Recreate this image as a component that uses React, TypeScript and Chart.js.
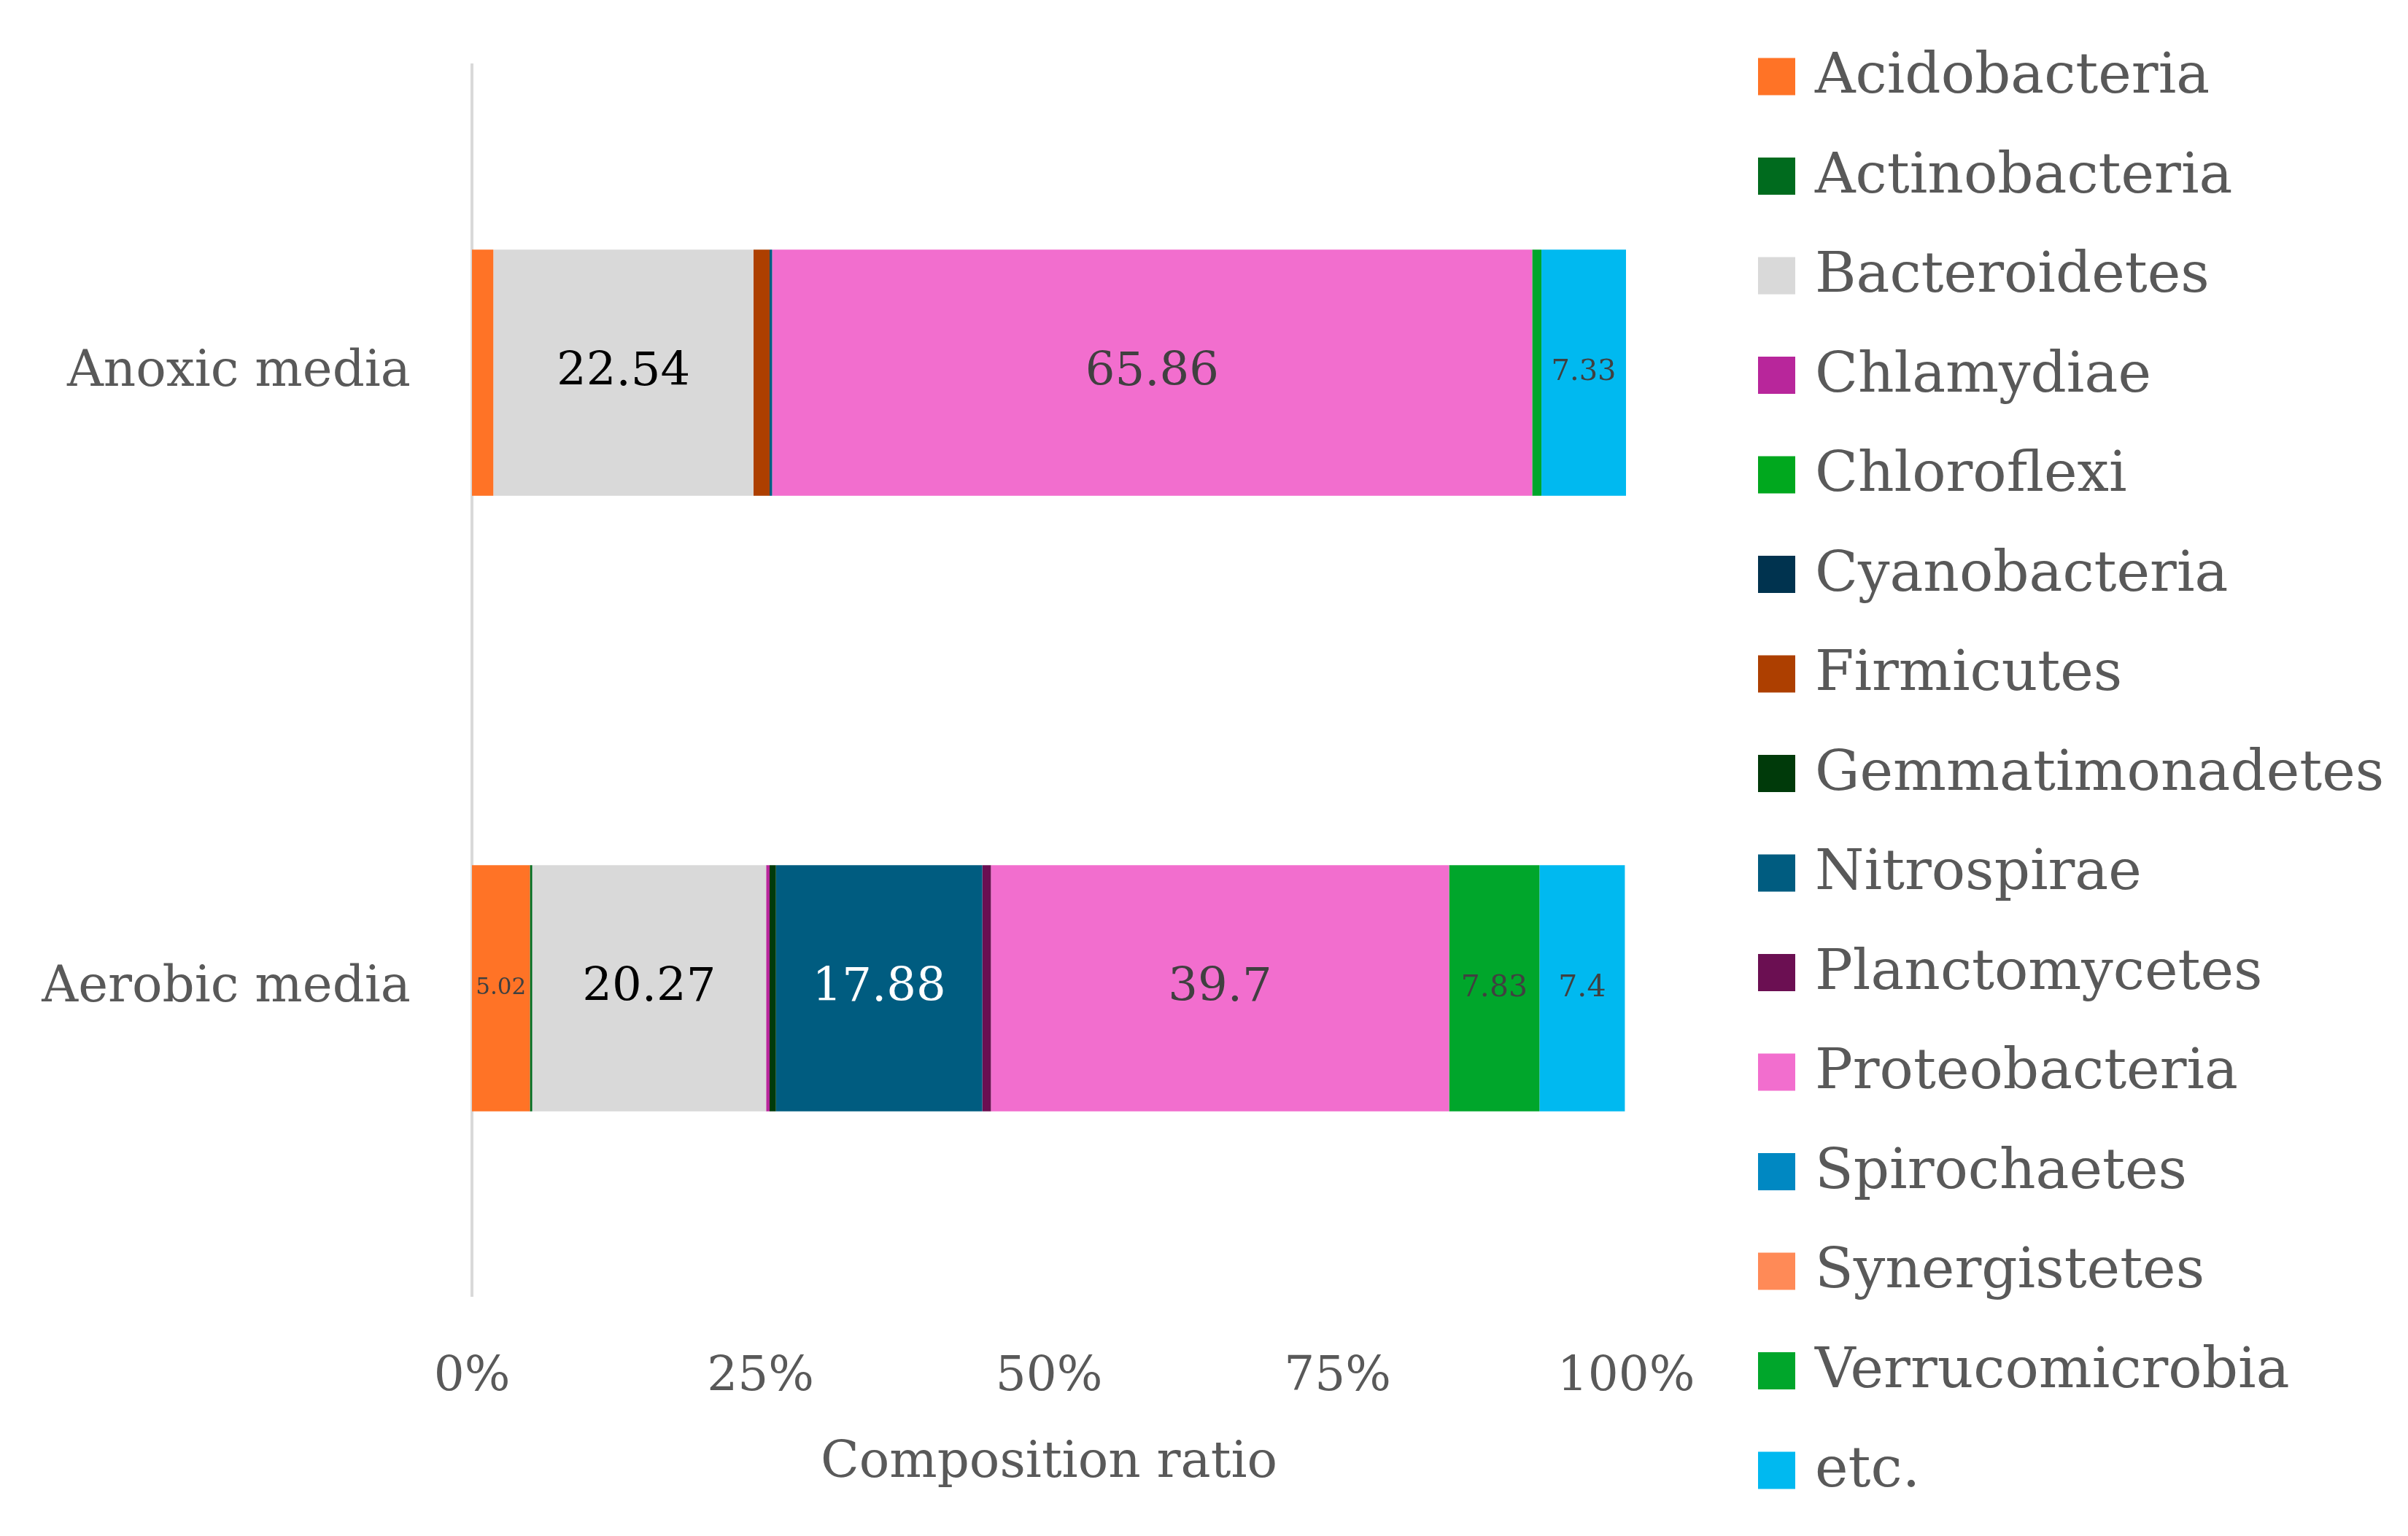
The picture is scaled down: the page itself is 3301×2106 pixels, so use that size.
import { useEffect, useRef } from "react";
import { Chart, registerables } from "chart.js";

Chart.register(...registerables);

const CATEGORIES = ["Anoxic media", "Aerobic media"];

const PHYLA = [
  "Acidobacteria",
  "Actinobacteria",
  "Bacteroidetes",
  "Chlamydiae",
  "Chloroflexi",
  "Cyanobacteria",
  "Firmicutes",
  "Gemmatimonadetes",
  "Nitrospirae",
  "Planctomycetes",
  "Proteobacteria",
  "Spirochaetes",
  "Synergistetes",
  "Verrucomicrobia",
  "etc.",
];

const COLORS = [
  "#FF7326",
  "#006B1E",
  "#D9D9D9",
  "#B8269B",
  "#00A81E",
  "#00334F",
  "#AD3F00",
  "#003A0A",
  "#005C80",
  "#6B0F52",
  "#F26ECE",
  "#0088C2",
  "#FF8A57",
  "#00A62B",
  "#00B9F0",
];

// values per phylum, same order as PHYLA
const ANOXIC = [1.85, 0, 22.54, 0, 0, 0, 1.4, 0, 0.22, 0, 65.86, 0, 0, 0.8, 7.33];
const AEROBIC = [5.02, 0.2, 20.27, 0.3, 0, 0, 0, 0.55, 17.88, 0.75, 39.7, 0, 0, 7.83, 7.4];

const X_TICKS = [0, 25, 50, 75, 100];
const X_TITLE = "Composition ratio";

// which segments carry a value label (phylum, category index)
const LABELLED = [
  { phylum: "Bacteroidetes", cat: 0, size: 64, color: "#000000" },
  { phylum: "Proteobacteria", cat: 0, size: 64, color: "#404040" },
  { phylum: "etc.", cat: 0, size: 40, color: "#404040" },
  { phylum: "Acidobacteria", cat: 1, size: 31, color: "#404040" },
  { phylum: "Bacteroidetes", cat: 1, size: 64, color: "#000000" },
  { phylum: "Nitrospirae", cat: 1, size: 64, color: "#FFFFFF" },
  { phylum: "Proteobacteria", cat: 1, size: 64, color: "#404040" },
  { phylum: "Verrucomicrobia", cat: 1, size: 41, color: "#404040" },
  { phylum: "etc.", cat: 1, size: 41, color: "#404040" },
];

const FONT = '"DejaVu Serif", serif';
const TEXT = "#595959";

const W = 3301;
const H = 2106;

const valueLabels = {
  id: "valueLabels",
  afterDatasetsDraw(chart: any) {
    const ctx = chart.ctx;
    ctx.save();
    ctx.textAlign = "center";
    ctx.textBaseline = "middle";
    LABELLED.forEach((l) => {
      const di = PHYLA.indexOf(l.phylum);
      const el = chart.getDatasetMeta(di).data[l.cat];
      if (!el) return;
      const p = el.getCenterPoint();
      const v = chart.data.datasets[di].data[l.cat];
      ctx.font = `${l.size}px ${FONT}`;
      ctx.fillStyle = l.color;
      ctx.fillText(String(v), p.x, p.y);
    });
    ctx.restore();
  },
};

const sideLegend = {
  id: "sideLegend",
  afterDraw(chart: any) {
    const ctx = chart.ctx;
    ctx.save();
    const x0 = 2410;
    const box = 51;
    const y0 = 105;
    const step = 136.5;
    ctx.font = `77px ${FONT}`;
    ctx.textAlign = "left";
    ctx.textBaseline = "middle";
    chart.data.datasets.forEach((ds: any, i: number) => {
      const cy = y0 + i * step;
      ctx.fillStyle = ds.backgroundColor;
      ctx.fillRect(x0, cy - box / 2, box, box);
      ctx.fillStyle = TEXT;
      ctx.fillText(ds.label, x0 + 78, cy + 2);
    });
    ctx.restore();
  },
};

export default function App() {
  const ref = useRef<HTMLCanvasElement | null>(null);

  useEffect(() => {
    document.body.style.margin = "0";
    if (!ref.current) return;
    const chart = new Chart(ref.current, {
      type: "bar",
      data: {
        labels: CATEGORIES,
        datasets: PHYLA.map((p, i) => ({
          label: p,
          data: [ANOXIC[i], AEROBIC[i]],
          backgroundColor: COLORS[i],
          borderWidth: 0,
          barPercentage: 0.4,
          categoryPercentage: 1,
        })),
      },
      options: {
        indexAxis: "y",
        responsive: false,
        devicePixelRatio: 1,
        animation: false,
        layout: { padding: { top: 89, right: W - 2229, bottom: 0, left: 0 } },
        plugins: {
          legend: { display: false },
          tooltip: { enabled: false },
        },
        scales: {
          x: {
            stacked: true,
            min: 0,
            max: 100,
            afterBuildTicks: (scale: any) => {
              scale.ticks = X_TICKS.map((v) => ({ value: v }));
            },
            afterFit: (scale: any) => {
              scale.height = H - 1777;
              scale.paddingLeft = 0;
              scale.paddingRight = 0;
            },
            grid: { display: false, drawTicks: false },
            border: { display: false },
            ticks: {
              padding: 72,
              color: TEXT,
              font: { family: "DejaVu Serif", size: 66 },
              callback: (v: any) => `${v}%`,
              maxRotation: 0,
            },
            title: {
              display: true,
              text: X_TITLE,
              color: TEXT,
              font: { family: "DejaVu Serif", size: 69 },
              padding: { top: 0, bottom: 58 },
            },
          },
          y: {
            stacked: true,
            afterFit: (scale: any) => {
              scale.width = 647;
              scale.paddingTop = 0;
              scale.paddingBottom = 0;
            },
            grid: { display: false, drawTicks: false },
            border: { display: true, color: "#D9D9D9", width: 4 },
            ticks: {
              padding: 84,
              color: TEXT,
              font: { family: "DejaVu Serif", size: 69 },
            },
          },
        },
      },
      plugins: [valueLabels, sideLegend],
    });
    return () => chart.destroy();
  }, []);

  return (
    <div style={{ width: W, height: H, background: "#fff" }}>
      <canvas ref={ref} width={W} height={H} style={{ display: "block", width: W, height: H }} />
    </div>
  );
}
